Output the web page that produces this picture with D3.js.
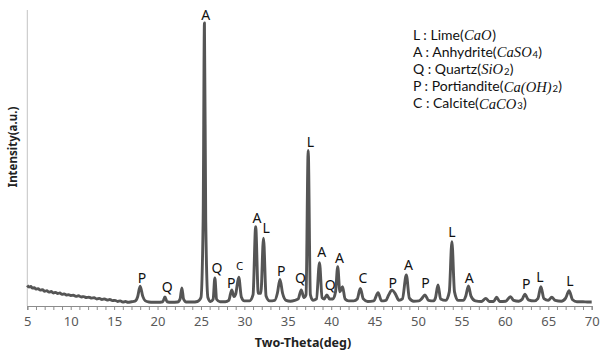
<!DOCTYPE html>
<html>
<head>
<meta charset="utf-8">
<script src="https://cdn.jsdelivr.net/npm/d3@7"></script>
<style>
  html, body { margin: 0; padding: 0; background: #fff; }
  svg { display: block; }
</style>
</head>
<body>
<svg id="chart" width="600" height="354"></svg>
<script>
// ---- data: XRD profile (two-theta in degrees, intensity in arbitrary units) ----
const theta = [
  5.0, 5.2, 5.4, 5.6, 5.8, 6.0, 6.25, 6.5, 6.75, 7.0, 7.25, 7.5, 7.75, 8.0, 8.25, 8.5, 8.75, 9.0, 9.25, 9.5,
  9.75, 10.0, 10.3, 10.6, 10.9, 11.2, 11.5, 11.8, 12.1, 12.4, 12.7, 13.0, 13.3, 13.6, 13.9, 14.2, 14.5, 14.8,
  15.1, 15.4, 15.7, 16.0, 16.3, 16.6, 17.0, 17.4, 17.7, 18.0, 18.3, 18.6, 19.0, 19.5, 20.0, 20.6, 20.85, 21.1, 21.6,
  22.3, 22.6, 22.8, 23.0, 23.3, 24.0, 24.6, 25.0, 25.25, 25.4, 25.55, 25.8, 26.1, 26.4, 26.6, 26.8, 27.2, 27.8,
  28.2, 28.55, 28.8, 29.0, 29.35, 29.65, 30.0, 30.6, 31.0, 31.3, 31.6, 31.9, 32.2, 32.5, 32.9, 33.5, 33.8, 34.1,
  34.4, 34.8, 35.3, 35.8, 36.2, 36.55, 36.85, 37.1, 37.35, 37.6, 37.9, 38.3, 38.65, 38.95, 39.2, 39.5, 39.8,
  40.2, 40.5, 40.75, 41.0, 41.3, 41.6, 42.0, 42.6, 43.0, 43.35, 43.7, 44.2, 44.9, 45.4, 45.8, 46.3, 46.6, 47.0,
  47.4, 47.8, 48.2, 48.65, 49.0, 49.5, 50.1, 50.4, 50.8, 51.2, 51.8, 52.0, 52.3, 52.6, 53.2, 53.6, 53.9, 54.2,
  54.6, 55.2, 55.5, 55.8, 56.1, 56.6, 57.3, 57.8, 58.2, 58.7, 59.05, 59.4, 60.1, 60.65, 61.0, 61.6, 62.0, 62.3,
  62.7, 63.4, 63.8, 64.15, 64.5, 65.0, 65.4, 65.8, 66.5, 67.0, 67.4, 67.8, 68.3, 69.0, 69.5, 70.0
];
const intensity = [
  7.3, 6.7, 6.9, 6.3, 6.5, 6.0, 6.1, 5.6, 5.8, 5.2, 5.4, 4.9, 5.1, 4.6, 4.8, 4.4, 4.6, 4.1, 4.3, 3.9,
  4.0, 3.7, 3.8, 3.4, 3.6, 3.2, 3.3, 3.0, 3.1, 2.8, 2.9, 2.5, 2.7, 2.3, 2.5, 2.1, 2.3, 1.9,
  2.0, 1.6, 1.8, 1.4, 1.6, 1.3, 1.5, 1.7, 3.2, 7.0, 3.4, 1.8, 1.4, 1.3, 1.3, 1.5, 3.2, 1.5, 1.3,
  1.4, 2.5, 6.4, 2.4, 1.4, 1.4, 1.6, 3.0, 30, 100, 30, 3.0, 1.6, 2.4, 9.9, 2.4, 1.5, 1.5,
  2.0, 5.7, 3.3, 4.2, 10.2, 3.2, 1.8, 1.8, 4.0, 28, 4.5, 4.5, 24, 3.5, 1.8, 2.0, 4.5, 9.4,
  4.5, 2.0, 1.7, 2.0, 2.5, 5.7, 3.0, 4.0, 55, 4.0, 2.0, 2.5, 15.3, 3.0, 2.5, 3.9, 2.5,
  2.5, 5.0, 13.9, 5.0, 6.8, 2.5, 1.8, 1.8, 2.5, 6.2, 2.5, 1.6, 1.8, 4.7, 1.8, 2.0, 3.8, 5.6,
  4.2, 2.0, 2.5, 11.0, 2.8, 1.7, 1.8, 2.5, 3.9, 2.0, 1.8, 2.8, 7.4, 2.5, 2.0, 5.0, 22.7, 5.0,
  2.0, 2.0, 3.5, 7.1, 3.5, 1.8, 1.6, 2.7, 1.6, 1.6, 3.1, 1.6, 1.7, 3.3, 2.0, 1.7, 2.4, 4.2,
  2.2, 1.8, 2.6, 6.8, 2.6, 2.0, 3.1, 2.0, 1.7, 2.8, 5.4, 2.2, 1.5, 1.5, 1.4, 1.4
];

// ---- phase labels above peaks ----
const labelText  = ["P", "Q", "A", "Q", "P", "C", "A", "L", "P", "Q", "L", "A", "Q", "A", "C", "P", "A", "P", "L", "A", "P", "L", "L"];
const labelTheta = [18.2, 21.1, 25.55, 26.85, 28.5, 29.45, 31.45, 32.5, 34.25, 36.45, 37.6, 38.9, 39.9, 40.95, 43.65, 47.1, 48.9, 50.85, 53.9, 55.9, 62.45, 64.05, 67.5];
const labelLevel = [10.0, 6.8, 103.0, 13.3, 8.1, 14.1, 31.0, 27.5, 12.5, 9.9, 57.9, 19.2, 7.4, 16.9, 9.8, 8.0, 14.5, 8.0, 26.0, 9.8, 7.8, 10.1, 8.9];
const labelSmall = [false, false, false, false, false, true, false, false, false, false, false, false, false, false, false, false, false, false, false, false, false, false, false];

// ---- legend ----
const legendKeys     = ["L", "A", "Q", "P", "C"];
const legendNames    = ["Lime", "Anhydrite", "Quartz", "Portiandite", "Calcite"];
const legendFormulas = ["CaO", "CaSO4", "SiO2", "Ca(OH)2", "CaCO3"];

// ---- axis ----
const xMajorTicks = [5, 10, 15, 20, 25, 30, 35, 40, 45, 50, 55, 60, 65, 70];
const xTitle = "Two-Theta(deg)";
const yTitle = "Intensity(a.u.)";

// ---- drawing ----
const svg = d3.select("#chart");
const x = d3.scaleLinear().domain([5, 70]).range([27.3, 591.7]);
const y = d3.scaleLinear().domain([0, 100]).range([306, 23]);

const sansFont = "'Noto Sans', 'Open Sans', sans-serif";
const legendFont = "Lato, 'Liberation Sans', sans-serif";
const serifFont = "'Liberation Serif', 'DejaVu Serif', serif";

// y axis line (no ticks)
svg.append("line")
  .attr("x1", x(5)).attr("x2", x(5))
  .attr("y1", 10).attr("y2", y(0))
  .attr("stroke", "#c4c4c4").attr("stroke-width", 1);

// x axis
const xAxis = d3.axisBottom(x)
  .tickValues(d3.range(5, 71, 1))
  .tickSize(4)
  .tickFormat(d => xMajorTicks.includes(d) ? d : "");
const gx = svg.append("g")
  .attr("transform", `translate(0,${y(0)})`)
  .call(xAxis);
gx.select(".domain").attr("stroke", "#8c8c8c").attr("stroke-width", 1.2);
gx.selectAll(".tick line").attr("stroke", "#8c8c8c");
gx.selectAll(".tick text")
  .attr("fill", "#595959")
  .attr("font-family", sansFont)
  .attr("font-size", 13)
  .attr("dy", "1.0em");

// profile line
const pts = theta.map((t, i) => [t, intensity[i]]);
const line = d3.line()
  .x(d => x(d[0]))
  .y(d => y(d[1]))
  .curve(d3.curveMonotoneX);
svg.append("path")
  .datum(pts)
  .attr("d", line)
  .attr("fill", "none")
  .attr("stroke", "#555")
  .attr("stroke-width", 2.9)
  .attr("stroke-linejoin", "round");

// peak labels
svg.append("g").selectAll("text")
  .data(labelText)
  .join("text")
  .attr("x", (d, i) => x(labelTheta[i]))
  .attr("y", (d, i) => y(labelLevel[i]))
  .attr("dy", "0.36em")
  .attr("text-anchor", "middle")
  .attr("font-family", sansFont)
  .attr("font-size", (d, i) => labelSmall[i] ? 11.5 : 14)
  .attr("fill", "#111")
  .text(d => d);

// axis titles
svg.append("text")
  .attr("x", 303).attr("y", 343)
  .attr("dy", "0.35em")
  .attr("text-anchor", "middle")
  .attr("font-family", sansFont)
  .attr("font-weight", "bold")
  .attr("font-size", 12.5)
  .attr("fill", "#222")
  .text(xTitle);

svg.append("text")
  .attr("transform", "translate(13,147) rotate(-90)")
  .attr("dy", "0.35em")
  .attr("text-anchor", "middle")
  .attr("font-family", sansFont)
  .attr("font-weight", "bold")
  .attr("font-size", 11.5)
  .attr("fill", "#222")
  .text(yTitle);

// legend: each piece is its own text element placed after the previous one
const lg = svg.append("g").attr("transform", "translate(413,35)");
legendKeys.forEach((k, i) => {
  const rowY = i * 17.1;
  let cx = 0;
  const piece = (str, opts) => {
    const t = lg.append("text")
      .attr("x", cx)
      .attr("y", rowY + (opts.sub ? 2 : 0))
      .attr("dy", "0.36em")
      .attr("font-family", opts.serif ? serifFont : legendFont)
      .attr("font-style", opts.serif ? "italic" : "normal")
      .attr("font-size", opts.sub ? 9.5 : (opts.serif ? 14.6 : 14))
      .attr("fill", "#111")
      .text(str);
    cx += t.node().getComputedTextLength() + (opts.serif ? 0.8 : 0.3);
  };
  piece(`${k} : ${legendNames[i]}(`, {});
  const parts = legendFormulas[i].match(/[^0-9]+|[0-9]+/g);
  parts.forEach(p => {
    if (/^[0-9]+$/.test(p)) piece(p, { sub: true });
    else piece(p, { serif: true });
  });
  piece(")", {});
});
</script>
</body>
</html>
